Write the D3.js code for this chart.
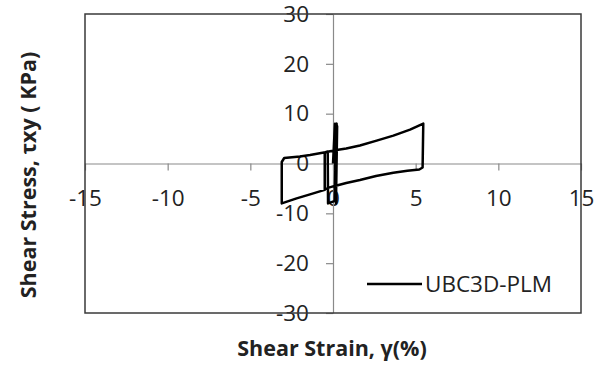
<!DOCTYPE html>
<html>
<head>
<meta charset="utf-8">
<script src="https://cdn.jsdelivr.net/npm/d3@7"></script>
<style>
  html, body { margin: 0; padding: 0; background: #fff; }
  svg { display: block; }
  text { font-family: "Open Sans", "Noto Sans", sans-serif; fill: #222; }
</style>
</head>
<body>
<svg id="chart" width="600" height="365"></svg>
<script>
// Hysteresis loop of the UBC3D-PLM simulation: shear strain (%) vs shear stress (kPa)
const strainPct = [0, 0.12, 0.15, 0.2, 0.1, 0.22, 0.18, 0.25, 0.12, -0.3, -0.32, -0.5, -0.5,
  -1.39, -2.2, -3.1, -3.1, -2.95, -2.0, -1.39, -0.38, 0.12, 0.8, 1.63, 2.64, 3.65, 4.66, 5.46,
  5.42, 5.22, 4.5, 3.65, 2.6, 1.63, 0.8, 0, -0.5];
const shearStress = [0, 8, -7, 8, -7.5, 8, -8, 7.5, -7.5, -8, 2.4, 2.2, -5.3,
  -6.2, -7.0, -8.0, 0.3, 1.1, 1.4, 1.7, 2.3, 2.65, 3.0, 3.6, 4.6, 5.6, 6.8, 8.0,
  -0.8, -1.2, -1.45, -1.85, -2.5, -3.3, -3.9, -4.6, -5.1];
const xTicks = [-15, -10, -5, 0, 5, 10, 15];
const yTicks = [-30, -20, -10, 0, 10, 20, 30];
const seriesName = "UBC3D-PLM";
const xTitle = "Shear Strain, γ(%)";
const yTitle = "Shear Stress, τxy ( KPa)";

const svg = d3.select("#chart");
const plot = { left: 85, right: 581, top: 14, bottom: 313 };

const x = d3.scaleLinear().domain([-15, 15]).range([plot.left, plot.right]);
const y = d3.scaleLinear().domain([-30, 30]).range([plot.bottom, plot.top]);

const axisColor = "#8a8a8a";

// x axis through stress = 0
const gx = svg.append("g")
  .attr("transform", `translate(0,${y(0)})`)
  .call(d3.axisBottom(x).tickValues(xTicks).tickFormat(d3.format("d"))
    .tickSize(7).tickSizeOuter(0).tickPadding(20));
// y axis through strain = 0
const gy = svg.append("g")
  .attr("transform", `translate(${x(0)},0)`)
  .call(d3.axisLeft(y).tickValues(yTicks).tickFormat(d3.format("d"))
    .tickSize(7).tickSizeOuter(0).tickPadding(17));

[gx, gy].forEach(g => {
  g.select(".domain").attr("stroke", axisColor).attr("stroke-width", 1.2);
  g.selectAll(".tick line").attr("stroke", axisColor).attr("stroke-width", 1.2);
  g.selectAll(".tick text")
    .attr("fill", "#222")
    .style("font-family", '"Open Sans", sans-serif')
    .style("font-size", "22.5px");
});
gx.selectAll(".tick text").text(d => d < 0 ? "-" + Math.abs(d) : d);
gy.selectAll(".tick text").text(d => d < 0 ? "-" + Math.abs(d) : d);

// plot frame
svg.append("rect")
  .attr("x", plot.left).attr("y", plot.top)
  .attr("width", plot.right - plot.left).attr("height", plot.bottom - plot.top)
  .attr("fill", "none").attr("stroke", "#3a3a3a").attr("stroke-width", 1.5);

// loop
const pts = strainPct.map((s, i) => [s, shearStress[i]]);
const line = d3.line().x(d => x(d[0])).y(d => y(d[1]));
svg.append("path")
  .datum(pts)
  .attr("d", line)
  .attr("fill", "none")
  .attr("stroke", "#000")
  .attr("stroke-width", 2.5)
  .attr("stroke-linejoin", "round");

// legend
const leg = svg.append("g");
leg.append("line")
  .attr("x1", 367).attr("x2", 422).attr("y1", 284).attr("y2", 284)
  .attr("stroke", "#000").attr("stroke-width", 2.5);
leg.append("text")
  .attr("x", 425).attr("y", 284).attr("dy", "0.35em")
  .style("font-size", "22.5px")
  .text(seriesName);

// axis titles
svg.append("text")
  .attr("x", 332).attr("y", 356)
  .attr("text-anchor", "middle")
  .style("font-size", "21.5px").style("font-weight", "bold")
  .text(xTitle);
svg.append("text")
  .attr("transform", "translate(36,175) rotate(-90)")
  .attr("text-anchor", "middle")
  .style("font-size", "21.5px").style("font-weight", "bold")
  .text(yTitle);
</script>
</body>
</html>
